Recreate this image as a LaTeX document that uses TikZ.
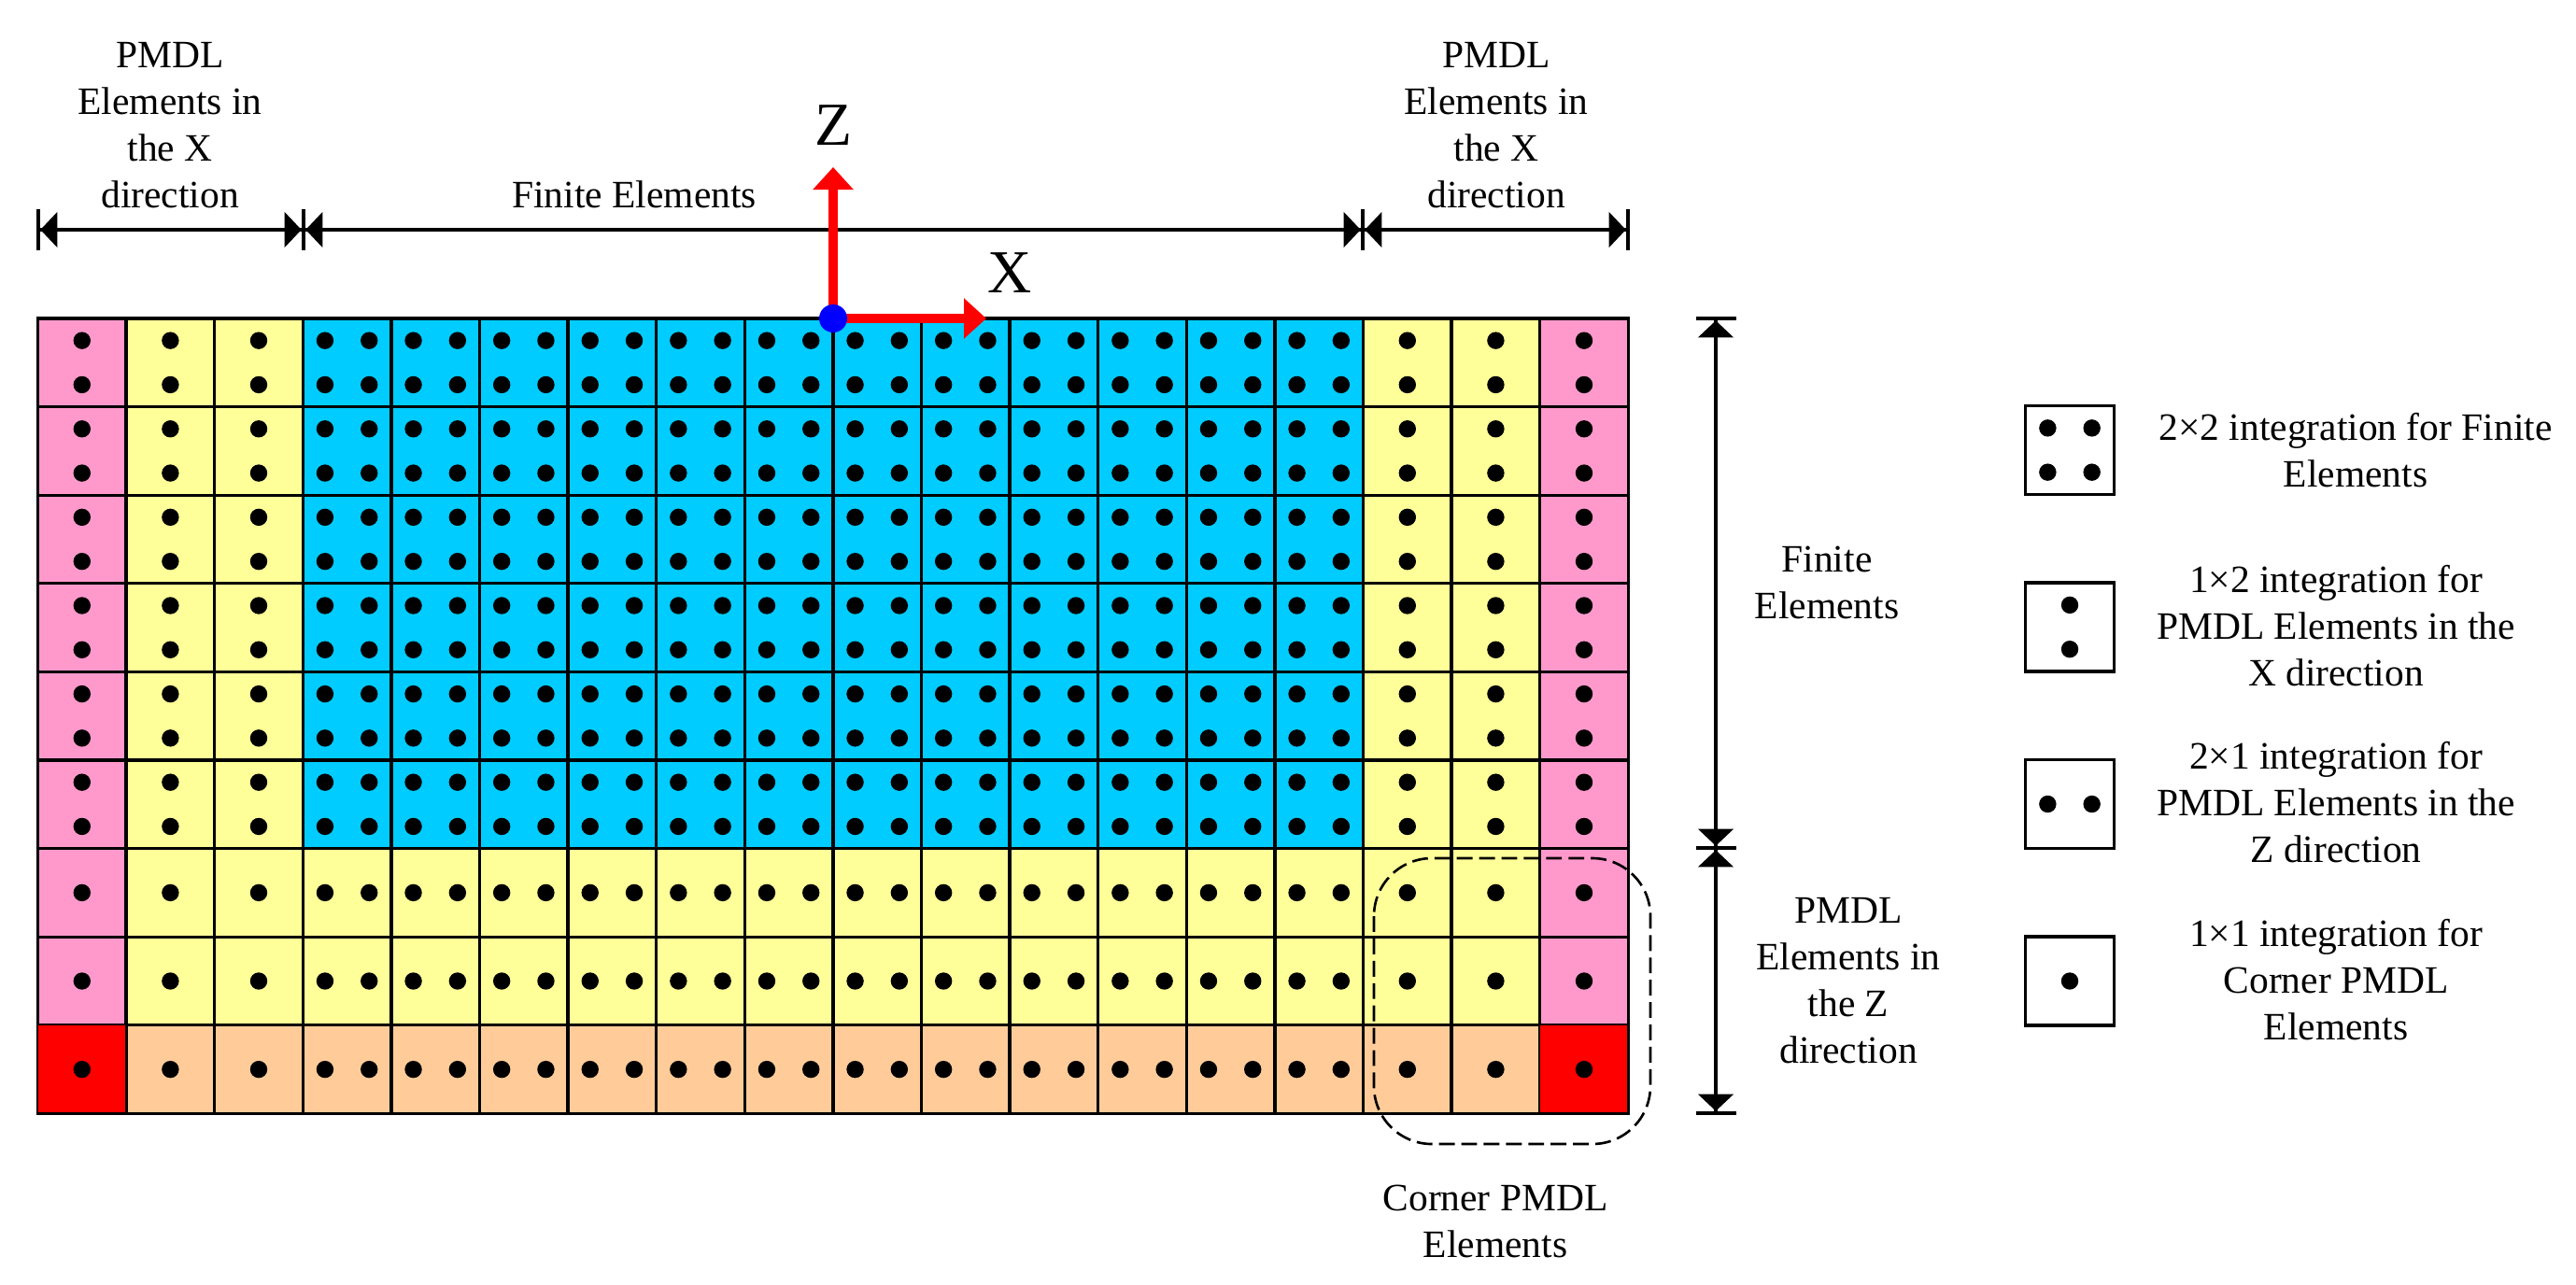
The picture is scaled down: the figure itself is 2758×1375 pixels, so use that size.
\documentclass[tikz,border=0pt]{standalone}
\usepackage{fontspec}
\usepackage{xcolor}
\usetikzlibrary{arrows.meta}
\setmainfont{Liberation Serif}
\definecolor{pmdlpink}{RGB}{255, 153, 204}
\definecolor{pmdlyellow}{RGB}{255, 255, 153}
\definecolor{pmdlorange}{RGB}{255, 204, 153}
\definecolor{feblue}{RGB}{0, 204, 255}
\tikzset{
  lbl/.style={font=\fontsize{11.8}{14.2}\selectfont, align=center, inner sep=0pt, outer sep=0pt},
  axislbl/.style={font=\fontsize{18.6}{20}\selectfont, inner sep=0pt, outer sep=0pt, anchor=base},
  dimline/.style={line width=1.3pt, shorten >=-0.65pt, shorten <=-0.65pt,
    {Bar[width=4.3mm]Triangle[length=1.8mm,width=3.7mm]}-{Triangle[length=1.8mm,width=3.7mm]Bar[width=4.3mm]}},
  axisline/.style={line width=3pt, red, -{Triangle[length=2.4mm,width=4.2mm]}},
  elem/.style={draw, line width=0.95pt, minimum size=9.46mm, inner sep=0pt, outer sep=0pt},
  legbox/.style={draw, line width=1.05pt, minimum size=9.5mm, inner sep=0pt, outer sep=0pt},
  gp/.style={fill=black}
}
\begin{document}
\begin{tikzpicture}[x=0.01cm, y=-0.01cm]
    \useasboundingbox (0,0) rectangle (2758,1375);

    % elements of the mesh
    \foreach \r in {1,...,9} {
      \foreach \c in {1,...,18} {
        \pgfmathsetmacro{\px}{40.5+94.6*(\c-0.5)}
        \pgfmathsetmacro{\py}{341+94.6*(\r-0.5)}
        \pgfmathtruncatemacro{\nx}{(\c>3 && \c<16) ? 2 : 1}
        \pgfmathtruncatemacro{\nz}{\r<7 ? 2 : 1}
        \pgfmathtruncatemacro{\side}{(\c==1 || \c==18) ? 1 : 0}
        \ifnum\r=9
          \ifnum\side=1 \def\cellfill{red}\else \def\cellfill{pmdlorange}\fi
        \else
          \ifnum\side=1
            \def\cellfill{pmdlpink}
          \else
            \ifnum\nz\nx=22 \def\cellfill{feblue}\else \def\cellfill{pmdlyellow}\fi
          \fi
        \fi
        \node[elem, fill=\cellfill] (cell-\r-\c) at (\px,\py) {};
      }
    }
    % corner elements have a thin edge
    \node[elem, fill=red, line width=0.4pt] (corner-l) at (87.8,1144.7) {};
    \node[elem, fill=red, line width=0.4pt] (corner-r) at (1695.7,1144.7) {};

    % integration points
    \foreach \r in {1,...,9} {
      \foreach \c in {1,...,18} {
        \pgfmathsetmacro{\px}{40.5+94.6*(\c-0.5)}
        \pgfmathsetmacro{\py}{341+94.6*(\r-0.5)}
        \pgfmathtruncatemacro{\nx}{(\c>3 && \c<16) ? 2 : 1}
        \pgfmathtruncatemacro{\nz}{\r<7 ? 2 : 1}
        \foreach \i in {1,...,\nx} {
          \foreach \j in {1,...,\nz} {
            \fill[gp] ({\px+(2*\i-1-\nx)*23.65},{\py+(2*\j-1-\nz)*23.65}) circle[radius=0.92mm];
          }
        }
      }
    }

    % dimension lines above the mesh
    \coordinate (top0) at (41,246);
    \coordinate (top1) at (325,246);
    \coordinate (top2) at (1459,246);
    \coordinate (top3) at (1743,246);
    \draw[dimline] (top0) -- (top1);
    \draw[dimline] (top1) -- (top2);
    \draw[dimline] (top2) -- (top3);

    % dimension lines beside the mesh
    \coordinate (side0) at (1837,341);
    \coordinate (side1) at (1837,908);
    \coordinate (side2) at (1837,1192);
    \draw[dimline] (side0) -- (side1);
    \draw[dimline] (side1) -- (side2);

    % axes
    \coordinate (origin) at (892,341);
    \coordinate (ztip) at (892,179);
    \coordinate (xtip) at (1056,341);
    \draw[axisline] (origin) -- (ztip);
    \draw[axisline] (origin) -- (xtip);
    \fill[blue] (origin) circle[radius=1.5mm];
    \node[axislbl] (zlabel) at (892,155) {Z};
    \node[axislbl] (xlabel) at (1081,313) {X};

    % corner region
    \draw[line width=0.75pt, dash pattern=on 4.8pt off 2pt, rounded corners=6.2mm] (1471,919) rectangle (1767,1225);

    % labels
    \node[lbl] (pmdl-xl) at (182,134) {PMDL\\Elements in\\the X\\direction};
    \node[lbl] (pmdl-xr) at (1602,134) {PMDL\\Elements in\\the X\\direction};
    \node[lbl] (fe-top) at (679,208) {Finite Elements};
    \node[lbl] (fe-side) at (1956,624) {Finite\\Elements};
    \node[lbl] (pmdl-z) at (1979,1050) {PMDL\\Elements in\\the Z\\direction};
    \node[lbl] (corner-lbl) at (1601,1308) {Corner PMDL\\Elements};

    % legend
    \foreach \w/\h/\y [count=\n] in {2/2/482, 1/2/671.5, 2/1/861, 1/1/1050.5} {
      \node[legbox] (leg-\n) at (2216,\y) {};
      \foreach \i in {1,...,\w} {
        \foreach \j in {1,...,\h} {
          \fill[gp] ({2216+(2*\i-1-\w)*23.65},{\y+(2*\j-1-\h)*23.65}) circle[radius=0.92mm];
        }
      }
    }
    \node[lbl] (leg-txt-1) at (2522,482) {2×2 integration for Finite\\Elements};
    \node[lbl] (leg-txt-2) at (2501,670) {1×2 integration for\\PMDL Elements in the\\X direction};
    \node[lbl] (leg-txt-3) at (2501,859) {2×1 integration for\\PMDL Elements in the\\Z direction};
    \node[lbl] (leg-txt-4) at (2501,1049) {1×1 integration for\\Corner PMDL\\Elements};
\end{tikzpicture}
\end{document}
